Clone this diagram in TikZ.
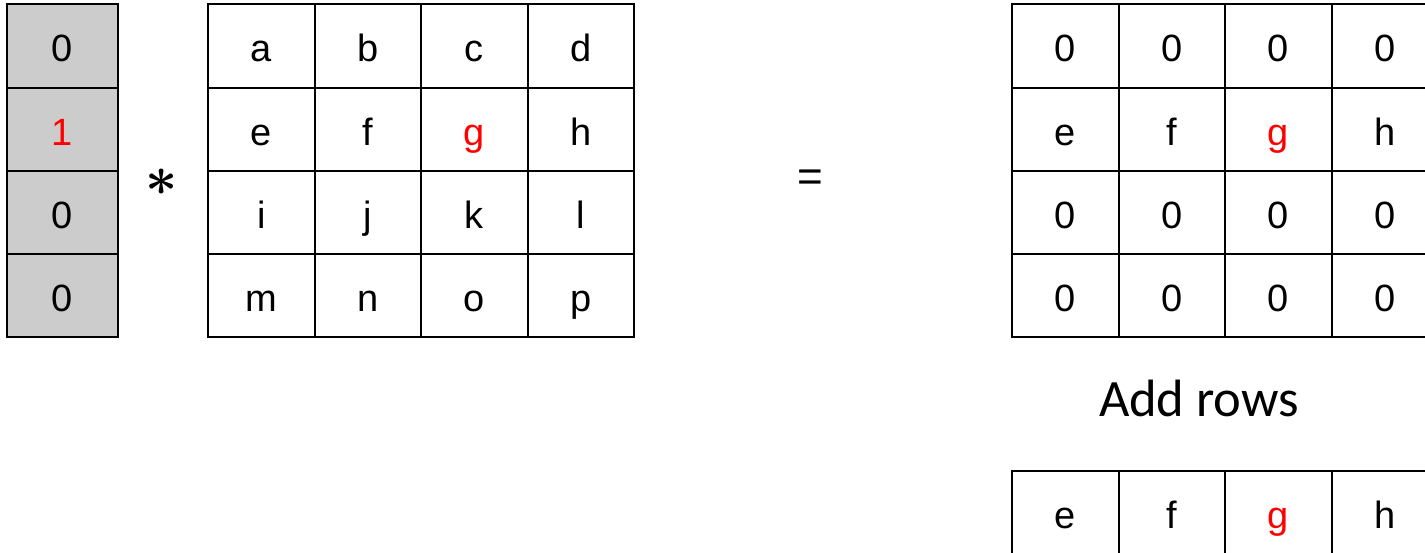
\documentclass[tikz,border=0pt]{standalone}
\usepackage{graphicx}
\usepackage{fontspec}
\setmainfont{Liberation Sans}
\newfontfamily\carlfont{Carlito}
\definecolor{cellgray}{RGB}{204,204,204}
\begin{document}
\begin{tikzpicture}[x=1pt,y=-1pt,
  cell/.style={draw, line width=2pt, minimum width=106.5pt, minimum height=83.25pt,
    inner sep=0pt, text height=34pt, text depth=2pt, font=\fontsize{38}{40}\selectfont},
  graycell/.style={cell, fill=cellgray, minimum width=111pt},
  bigsym/.style={inner sep=0pt}]
\useasboundingbox (0,0) rectangle (1425,553);
% left column vector
\foreach [count=\r] \t in {0,\textcolor{red}{1},0,0}
  \node[graycell] (v\r) at (62.5,{46+83.25*(\r-1)}) {\t};
% middle matrix
\foreach [count=\r] \row in {{a,b,c,d},{e,f,\textcolor{red}{g},h},{i,j,k,l},{m,n,o,p}}
  \foreach [count=\c] \t in \row
    \node[cell] (m\r\c) at ({261.25+106.5*(\c-1)},{46+83.25*(\r-1)}) {\t};
% result matrix
\foreach [count=\r] \row in {{0,0,0,0},{e,f,\textcolor{red}{g},h},{0,0,0,0},{0,0,0,0}}
  \foreach [count=\c] \t in \row
    \node[cell] (r\r\c) at ({1065.25+106.5*(\c-1)},{46+83.25*(\r-1)}) {\t};
% summed row
\foreach [count=\c] \t in {e,f,\textcolor{red}{g},h}
  \node[cell] (s\c) at ({1065.25+106.5*(\c-1)},512.6) {\t};
% operators and label
\node[bigsym] (ast) at (162,182) {\scalebox{5.6}{\boldmath$\ast$}};
\node[bigsym, font=\fontsize{44}{44}\selectfont] (eq) at (810,181) {=};
\node[anchor=base, inner sep=0pt, font=\carlfont\fontsize{52.5}{52.5}\selectfont] (add) at (1199,417) {Add rows};
\end{tikzpicture}
\end{document}
